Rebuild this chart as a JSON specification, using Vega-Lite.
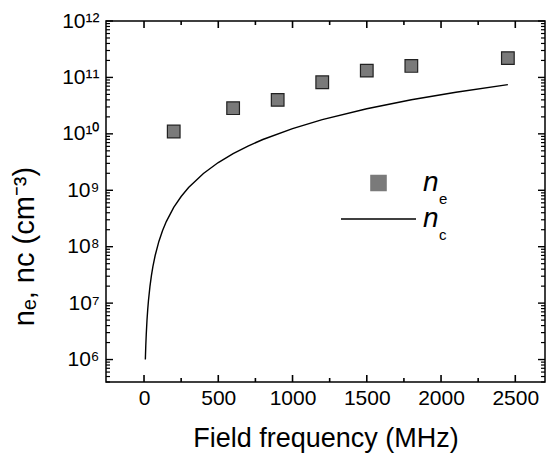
{
  "$schema": "https://vega.github.io/schema/vega-lite/v6.json",
  "width": 439,
  "height": 361,
  "autosize": "none",
  "padding": {"left": 106, "top": 21, "right": 2, "bottom": 72},
  "background": "white",
  "config": {
    "font": "Liberation Sans",
    "view": {"stroke": "#000", "strokeWidth": 1.5},
    "axis": {
      "ticks": false,
      "grid": false,
      "domain": false,
      "labelFont": "Liberation Sans",
      "labelFontSize": 21,
      "labelColor": "#000",
      "titleFont": "Liberation Sans",
      "titleFontSize": 27,
      "titleFontWeight": "normal",
      "titleColor": "#000"
    },
    "legend": {"padding": 0}
  },
  "datasets": {
    "ne": [
      {"f": 200, "n": 1.1e10, "series": "ne"},
      {"f": 600, "n": 2.85e10, "series": "ne"},
      {"f": 900, "n": 4.0e10, "series": "ne"},
      {"f": 1200, "n": 8.2e10, "series": "ne"},
      {"f": 1500, "n": 1.32e11, "series": "ne"},
      {"f": 1800, "n": 1.6e11, "series": "ne"},
      {"f": 2450, "n": 2.2e11, "series": "ne"}
    ],
    "nc": [
      {"f": 9, "n": 1.0e6, "series": "nc"},
      {"f": 10, "n": 1.24e6, "series": "nc"},
      {"f": 12, "n": 1.79e6, "series": "nc"},
      {"f": 15, "n": 2.79e6, "series": "nc"},
      {"f": 20, "n": 4.96e6, "series": "nc"},
      {"f": 25, "n": 7.75e6, "series": "nc"},
      {"f": 30, "n": 1.116e7, "series": "nc"},
      {"f": 40, "n": 1.984e7, "series": "nc"},
      {"f": 50, "n": 3.1e7, "series": "nc"},
      {"f": 60, "n": 4.46e7, "series": "nc"},
      {"f": 75, "n": 6.98e7, "series": "nc"},
      {"f": 100, "n": 1.24e8, "series": "nc"},
      {"f": 125, "n": 1.94e8, "series": "nc"},
      {"f": 150, "n": 2.79e8, "series": "nc"},
      {"f": 200, "n": 4.96e8, "series": "nc"},
      {"f": 250, "n": 7.75e8, "series": "nc"},
      {"f": 300, "n": 1.116e9, "series": "nc"},
      {"f": 400, "n": 1.984e9, "series": "nc"},
      {"f": 500, "n": 3.1e9, "series": "nc"},
      {"f": 600, "n": 4.46e9, "series": "nc"},
      {"f": 700, "n": 6.08e9, "series": "nc"},
      {"f": 800, "n": 7.94e9, "series": "nc"},
      {"f": 1000, "n": 1.24e10, "series": "nc"},
      {"f": 1200, "n": 1.786e10, "series": "nc"},
      {"f": 1500, "n": 2.79e10, "series": "nc"},
      {"f": 1800, "n": 4.02e10, "series": "nc"},
      {"f": 2100, "n": 5.47e10, "series": "nc"},
      {"f": 2450, "n": 7.44e10, "series": "nc"}
    ],
    "xticks": [
      {"v": 0}, {"v": 250}, {"v": 500}, {"v": 750}, {"v": 1000}, {"v": 1250},
      {"v": 1500}, {"v": 1750}, {"v": 2000}, {"v": 2250}, {"v": 2500}
    ],
    "yticks": [
      {"v": 400000}, {"v": 500000}, {"v": 600000}, {"v": 700000}, {"v": 800000}, {"v": 900000},
      {"v": 1e6}, {"v": 2e6}, {"v": 3e6}, {"v": 4e6}, {"v": 5e6}, {"v": 6e6}, {"v": 7e6}, {"v": 8e6}, {"v": 9e6},
      {"v": 1e7}, {"v": 2e7}, {"v": 3e7}, {"v": 4e7}, {"v": 5e7}, {"v": 6e7}, {"v": 7e7}, {"v": 8e7}, {"v": 9e7},
      {"v": 1e8}, {"v": 2e8}, {"v": 3e8}, {"v": 4e8}, {"v": 5e8}, {"v": 6e8}, {"v": 7e8}, {"v": 8e8}, {"v": 9e8},
      {"v": 1e9}, {"v": 2e9}, {"v": 3e9}, {"v": 4e9}, {"v": 5e9}, {"v": 6e9}, {"v": 7e9}, {"v": 8e9}, {"v": 9e9},
      {"v": 1e10}, {"v": 2e10}, {"v": 3e10}, {"v": 4e10}, {"v": 5e10}, {"v": 6e10}, {"v": 7e10}, {"v": 8e10}, {"v": 9e10},
      {"v": 1e11}, {"v": 2e11}, {"v": 3e11}, {"v": 4e11}, {"v": 5e11}, {"v": 6e11}, {"v": 7e11}, {"v": 8e11}, {"v": 9e11},
      {"v": 1e12}
    ]
  },
  "layer": [
    {
      "data": {"name": "nc"},
      "mark": {"type": "line", "strokeWidth": 1.4},
      "encoding": {
        "x": {
          "field": "f", "type": "quantitative",
          "title": "Field frequency (MHz)",
          "scale": {"domain": [-256, 2700], "nice": false, "zero": false},
          "axis": {
            "orient": "bottom",
            "values": [0, 500, 1000, 1500, 2000, 2500],
            "format": "d",
            "labelPadding": 5,
            "titlePadding": 17
          }
        },
        "y": {
          "field": "n", "type": "quantitative",
          "title": "nₑ, nc (cm⁻³)",
          "scale": {"type": "log", "domain": [400000, 1e12], "nice": false},
          "axis": {
            "orient": "left",
            "values": [1e6, 1e7, 1e8, 1e9, 1e10, 1e11, 1e12],
            "labelExpr": "'10' + (round(log(datum.value)/LN10) >= 10 ? '¹' + ['⁰','¹','²','³','⁴','⁵','⁶','⁷','⁸','⁹'][round(log(datum.value)/LN10) - 10] : ['⁰','¹','²','³','⁴','⁵','⁶','⁷','⁸','⁹'][round(log(datum.value)/LN10)])",
            "labelPadding": 7,
            "labelBaseline": "middle",
            "titleFontSize": 29,
            "titleX": -73,
            "titleY": 225,
            "titleBaseline": "alphabetic",
            "titleAngle": 270
          }
        },
        "color": {
          "field": "series", "type": "nominal", "sort": "descending",
          "scale": {"range": ["#7a7a7a", "#000000"]},
          "legend": {
            "orient": "none", "legendX": 234, "legendY": 144,
            "title": null,
            "labelExpr": "'n'",
            "labelFont": "Liberation Sans",
            "labelFontStyle": "italic",
            "labelFontSize": 28,
            "labelColor": "#000",
            "labelOffset": 6,
            "symbolSize": 5625,
            "clipHeight": 36,
            "rowPadding": 0,
            "encode": {
              "symbols": {
                "update": {
                  "shape": {"signal": "datum.value === 'ne' ? 'square' : 'stroke'"},
                  "size": {"signal": "datum.value === 'ne' ? 230 : 5625"},
                  "fill": {"signal": "datum.value === 'ne' ? '#7a7a7a' : 'transparent'"},
                  "stroke": {"signal": "datum.value === 'ne' ? '#222222' : '#000000'"},
                  "strokeWidth": {"value": 1.4},
                  "opacity": {"value": 1},
                  "fillOpacity": {"value": 1},
                  "strokeOpacity": {"value": 1}
                }
              }
            }
          }
        }
      }
    },
    {
      "data": {"name": "ne"},
      "mark": {"type": "point", "filled": true, "stroke": "#222222", "strokeWidth": 1.2, "size": 160, "opacity": 1},
      "encoding": {
        "x": {"field": "f", "type": "quantitative"},
        "y": {"field": "n", "type": "quantitative"},
        "color": {"field": "series", "type": "nominal", "sort": "descending"},
        "shape": {
          "field": "series", "type": "nominal",
          "scale": {"domain": ["ne", "nc"], "range": ["square", "square"]},
          "legend": {
            "orient": "none", "legendX": 318, "legendY": 170,
            "title": null,
            "labelExpr": "datum.label === 'ne' ? 'e' : 'c'",
            "labelFont": "Liberation Sans",
            "labelFontSize": 15,
            "labelColor": "#000",
            "labelOffset": 0,
            "symbolSize": 1,
            "symbolOpacity": 0,
            "symbolStrokeWidth": 0,
            "rowPadding": 20
          }
        }
      }
    },
    {
      "data": {"name": "xticks"},
      "transform": [{"filter": "datum.v % 500 === 0"}],
      "mark": {"type": "tick", "orient": "vertical", "thickness": 1.6, "size": 7, "yOffset": -3.5, "color": "#000000", "opacity": 1},
      "encoding": {
        "x": {"field": "v", "type": "quantitative"},
        "y": {"datum": 400000, "type": "quantitative"}
      }
    },
    {
      "data": {"name": "xticks"},
      "transform": [{"filter": "datum.v % 500 !== 0"}],
      "mark": {"type": "tick", "orient": "vertical", "thickness": 1.6, "size": 4, "yOffset": -2, "color": "#000000", "opacity": 1},
      "encoding": {
        "x": {"field": "v", "type": "quantitative"},
        "y": {"datum": 400000, "type": "quantitative"}
      }
    },
    {
      "data": {"name": "xticks"},
      "transform": [{"filter": "datum.v % 500 === 0"}],
      "mark": {"type": "tick", "orient": "vertical", "thickness": 1.6, "size": 7, "yOffset": 3.5, "color": "#000000", "opacity": 1},
      "encoding": {
        "x": {"field": "v", "type": "quantitative"},
        "y": {"datum": 1e12, "type": "quantitative"}
      }
    },
    {
      "data": {"name": "xticks"},
      "transform": [{"filter": "datum.v % 500 !== 0"}],
      "mark": {"type": "tick", "orient": "vertical", "thickness": 1.6, "size": 4, "yOffset": 2, "color": "#000000", "opacity": 1},
      "encoding": {
        "x": {"field": "v", "type": "quantitative"},
        "y": {"datum": 1e12, "type": "quantitative"}
      }
    },
    {
      "data": {"name": "yticks"},
      "transform": [{"filter": "abs(log(datum.v)/LN10 - round(log(datum.v)/LN10)) < 0.000001"}],
      "mark": {"type": "tick", "orient": "horizontal", "thickness": 1.4, "size": 7, "xOffset": 3.5, "color": "#000000", "opacity": 1},
      "encoding": {
        "y": {"field": "v", "type": "quantitative"},
        "x": {"datum": -256, "type": "quantitative"}
      }
    },
    {
      "data": {"name": "yticks"},
      "transform": [{"filter": "abs(log(datum.v)/LN10 - round(log(datum.v)/LN10)) >= 0.000001"}],
      "mark": {"type": "tick", "orient": "horizontal", "thickness": 1.2, "size": 4, "xOffset": 2, "color": "#000000", "opacity": 1},
      "encoding": {
        "y": {"field": "v", "type": "quantitative"},
        "x": {"datum": -256, "type": "quantitative"}
      }
    },
    {
      "data": {"name": "yticks"},
      "transform": [{"filter": "abs(log(datum.v)/LN10 - round(log(datum.v)/LN10)) < 0.000001"}],
      "mark": {"type": "tick", "orient": "horizontal", "thickness": 1.4, "size": 7, "xOffset": -3.5, "color": "#000000", "opacity": 1},
      "encoding": {
        "y": {"field": "v", "type": "quantitative"},
        "x": {"datum": 2700, "type": "quantitative"}
      }
    },
    {
      "data": {"name": "yticks"},
      "transform": [{"filter": "abs(log(datum.v)/LN10 - round(log(datum.v)/LN10)) >= 0.000001"}],
      "mark": {"type": "tick", "orient": "horizontal", "thickness": 1.2, "size": 4, "xOffset": -2, "color": "#000000", "opacity": 1},
      "encoding": {
        "y": {"field": "v", "type": "quantitative"},
        "x": {"datum": 2700, "type": "quantitative"}
      }
    }
  ]
}
